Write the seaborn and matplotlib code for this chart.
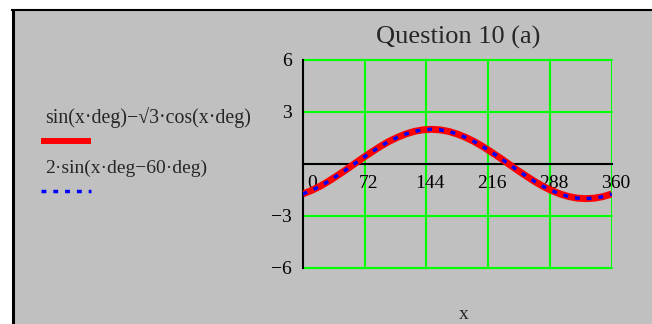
import matplotlib
matplotlib.use("Agg")
import matplotlib.pyplot as plt
import pandas as pd
import seaborn as sns
from matplotlib.patches import Rectangle
from matplotlib.lines import Line2D
from matplotlib.transforms import ScaledTranslation

# Sampled curve values (degrees on x)
x_deg = [0, 10, 20, 30, 40, 50, 60, 70, 80, 90, 100, 110, 120, 130, 140, 150,
         160, 170, 180, 190, 200, 210, 220, 230, 240, 250, 260, 270, 280, 290,
         300, 310, 320, 330, 340, 350, 360]
y_expr = [-1.73, -1.53, -1.29, -1.00, -0.68, -0.35, 0.00, 0.35, 0.68, 1.00,
          1.29, 1.53, 1.73, 1.88, 1.97, 2.00, 1.97, 1.88, 1.73, 1.53, 1.29,
          1.00, 0.68, 0.35, 0.00, -0.35, -0.68, -1.00, -1.29, -1.53, -1.73,
          -1.88, -1.97, -2.00, -1.97, -1.88, -1.73]
y_shift = [-1.73, -1.53, -1.29, -1.00, -0.68, -0.35, 0.00, 0.35, 0.68, 1.00,
           1.29, 1.53, 1.73, 1.88, 1.97, 2.00, 1.97, 1.88, 1.73, 1.53, 1.29,
           1.00, 0.68, 0.35, 0.00, -0.35, -0.68, -1.00, -1.29, -1.53, -1.73,
           -1.88, -1.97, -2.00, -1.97, -1.88, -1.73]

x_ticks = [0, 72, 144, 216, 288, 360]
x_tick_labels = ["0", "72", "144", "216", "288", "360"]
y_ticks = [-6, -3, 0, 3, 6]
y_tick_labels = ["\u22126", "\u22123", "", "3", "6"]
series_labels = ["sin(x\u00b7deg)\u2212\u221a3\u00b7cos(x\u00b7deg)",
                 "2\u00b7sin(x\u00b7deg\u221260\u00b7deg)"]
title = "Question 10 (a)"
x_name = "x"

W, H, DPI = 652, 324, 100
GRAY = "#C0C0C0"
RED = "#FF0000"
BLUE = "#0000FF"
GREEN = "#00FF00"
DOTS = (0, (1.4, 2.0))

sns.set_style("white")
plt.rcParams["font.family"] = ["Liberation Serif", "DejaVu Serif"]

fig = plt.figure(figsize=(W / DPI, H / DPI), dpi=DPI, facecolor="white")


def fx(px):
    return px / W


def fy(py):
    return 1 - py / H


# panel background with black left/top border
fig.add_artist(Rectangle((fx(13), 0), 1 - fx(13), fy(10.5), transform=fig.transFigure,
                         facecolor=GRAY, edgecolor="none", zorder=0))
fig.add_artist(Line2D([fx(12.5), fx(12.5)], [0, fy(9)], transform=fig.transFigure,
                      color="black", lw=2.2, solid_capstyle="butt"))
fig.add_artist(Line2D([fx(11), 1], [fy(10), fy(10)], transform=fig.transFigure,
                      color="black", lw=1.5, solid_capstyle="butt"))

ax = fig.add_axes([fx(302.7), fy(268), (611.7 - 302.7) / W, (268 - 60) / H])
ax.set_facecolor("none")

data = pd.DataFrame({"x": x_deg, "expr": y_expr, "shift": y_shift})
sns.lineplot(data=data, x="x", y="expr", ax=ax, color=RED, lw=5,
             solid_capstyle="butt", zorder=4)
sns.lineplot(data=data, x="x", y="shift", ax=ax, color=BLUE, lw=2.5,
             linestyle=DOTS, zorder=5)

ax.set_xlim(0, 360)
ax.set_ylim(-6, 6)
ax.set_xlabel("")
ax.set_ylabel("")
ax.set_xticks(x_ticks, x_tick_labels)
ax.set_yticks(y_ticks, y_tick_labels)

ax.grid(True, color=GREEN, lw=1.5)
ax.set_axisbelow(True)
for gl in ax.get_xgridlines() + ax.get_ygridlines():
    gl.set_clip_on(False)

for side in ("top", "right"):
    ax.spines[side].set_visible(False)
ax.spines["bottom"].set_position(("data", 0))
for side in ("left", "bottom"):
    ax.spines[side].set_color("black")
    ax.spines[side].set_linewidth(1.5)
    ax.spines[side].set_zorder(3)

ax.tick_params(direction="inout", length=12, width=1.5, color="black",
               labelsize=14, labelcolor="black")
ax.tick_params(axis="x", pad=2)
ax.tick_params(axis="y", pad=1.6)

for i, lab in enumerate(ax.get_xticklabels()):
    dx = 9 if i == 0 else 4
    lab.set_transform(lab.get_transform() + ScaledTranslation(dx / DPI, 0, fig.dpi_scale_trans))

fig.text(fx(458.5), fy(44), title, ha="center", va="baseline", fontsize=19)
fig.text(fx(463.5), fy(319), x_name, ha="center", va="baseline", fontsize=14)

# legend: expression text with its line sample underneath
fig.text(fx(45), fy(123), series_labels[0], ha="left", va="baseline", fontsize=14.3)
fig.add_artist(Line2D([fx(41), fx(91)], [fy(140.7), fy(140.7)], transform=fig.transFigure,
                      color=RED, lw=4.3, solid_capstyle="butt"))
fig.text(fx(45), fy(173.3), series_labels[1], ha="left", va="baseline", fontsize=14)
fig.add_artist(Line2D([fx(41), fx(91)], [fy(191), fy(191)], transform=fig.transFigure,
                      color=BLUE, lw=2.5, linestyle=DOTS))

fig.savefig("out.png", dpi=DPI)
